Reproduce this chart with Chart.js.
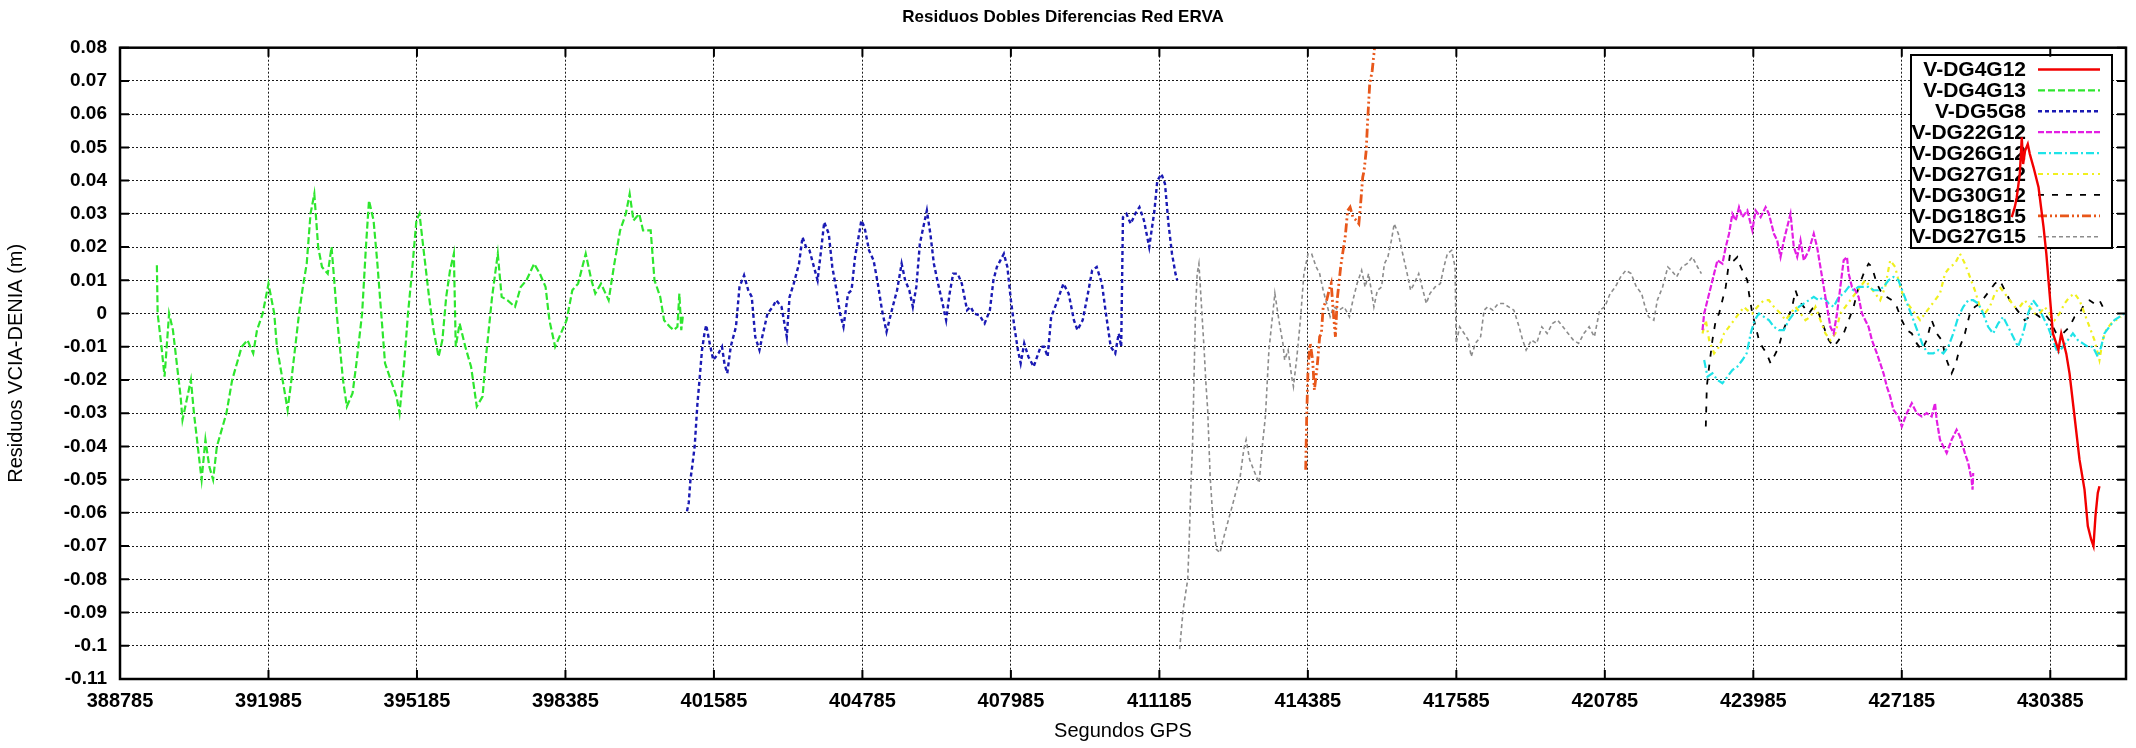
<!DOCTYPE html>
<html>
<head>
<meta charset="utf-8">
<script src="https://cdn.jsdelivr.net/npm/chart.js@4.4.1/dist/chart.umd.min.js"></script>
<style>
  html, body { margin: 0; padding: 0; background: #fff; }
  #wrap { width: 2136px; height: 748px; }
</style>
</head>
<body>
<div id="wrap"><canvas id="c" width="2136" height="748"></canvas></div>
<script>
// ---------------- DATA ----------------
const chartTitle = 'Residuos Dobles Diferencias Red ERVA';
const xTitle = 'Segundos GPS';
const yTitle = 'Residuos VCIA-DENIA (m)';

const xTicks = [388785, 391985, 395185, 398385, 401585, 404785, 407985, 411185, 414385, 417585, 420785, 423985, 427185, 430385];
const xTickLabels = ['388785','391985','395185','398385','401585','404785','407985','411185','414385','417585','420785','423985','427185','430385'];
const yTicks = [0.08,0.07,0.06,0.05,0.04,0.03,0.02,0.01,0,-0.01,-0.02,-0.03,-0.04,-0.05,-0.06,-0.07,-0.08,-0.09,-0.1,-0.11];
const yTickLabels = ['0.08','0.07','0.06','0.05','0.04','0.03','0.02','0.01','0','-0.01','-0.02','-0.03','-0.04','-0.05','-0.06','-0.07','-0.08','-0.09','-0.1','-0.11'];
const xMin = 388785, xMax = 432017, yMin = -0.11, yMax = 0.08;

const seriesLabels = ['V-DG4G12','V-DG4G13','V-DG5G8','V-DG22G12','V-DG26G12','V-DG27G12','V-DG30G12','V-DG18G15','V-DG27G15'];

// [GPS seconds, residual (m)]
const DG4G12 = [[429555,0.029],[429620,0.032],[429663,0.035],[429728,0.042],[429771,0.053],[429800,0.045],[429842,0.049],[429900,0.051],[429944,0.048],[430024,0.044],[430132,0.038],[430240,0.026],[430300,0.018],[430371,0.006],[430442,-0.006],[430514,-0.009],[430560,-0.011],[430621,-0.006],[430729,-0.012],[430800,-0.018],[430908,-0.031],[431015,-0.044],[431123,-0.053],[431194,-0.064],[431266,-0.068],[431316,-0.07],[431359,-0.061],[431409,-0.054],[431445,-0.052]];

const DG4G13 = [[389580,0.0145],[389596,0.0],[389679,-0.01],[389745,-0.019],[389843,0.0],[389926,-0.005],[390091,-0.025],[390132,-0.032],[390313,-0.02],[390379,-0.03],[390461,-0.04],[390544,-0.05],[390626,-0.038],[390708,-0.046],[390791,-0.05],[390873,-0.04],[391079,-0.03],[391202,-0.02],[391408,-0.01],[391532,-0.008],[391656,-0.012],[391738,-0.005],[391861,0.0],[391985,0.009],[392109,0.0],[392166,-0.01],[392314,-0.022],[392397,-0.029],[392479,-0.02],[392562,-0.01],[392644,0.0],[392726,0.008],[392809,0.015],[392891,0.03],[392973,0.036],[393056,0.02],[393138,0.014],[393262,0.012],[393344,0.02],[393402,0.01],[393468,-0.002],[393591,-0.02],[393674,-0.028],[393797,-0.024],[393880,-0.015],[394003,0.0],[394085,0.02],[394151,0.034],[394250,0.028],[394332,0.015],[394415,0.0],[394497,-0.015],[394621,-0.02],[394744,-0.025],[394810,-0.03],[394909,-0.015],[394992,0.0],[395074,0.012],[395173,0.028],[395239,0.03],[395321,0.02],[395445,0.005],[395543,-0.005],[395650,-0.013],[395733,-0.008],[395815,0.005],[395898,0.013],[395980,0.018],[396021,-0.01],[396104,-0.003],[396227,-0.01],[396351,-0.016],[396474,-0.028],[396598,-0.025],[396680,-0.012],[396804,0.005],[396927,0.018],[397010,0.005],[397133,0.004],[397298,0.002],[397421,0.008],[397545,0.01],[397710,0.015],[397833,0.012],[397957,0.008],[398039,-0.002],[398163,-0.01],[398286,-0.006],[398410,-0.002],[398533,0.007],[398657,0.009],[398822,0.018],[398945,0.01],[399028,0.006],[399151,0.009],[399316,0.004],[399439,0.015],[399563,0.025],[399686,0.03],[399769,0.036],[399851,0.028],[399975,0.03],[400057,0.025],[400222,0.025],[400304,0.01],[400428,0.005],[400510,-0.002],[400634,-0.004],[400716,-0.005],[400798,-0.004],[400840,0.006],[400881,-0.005],[400922,0.0]];

const DG5G8 = [[401004,-0.0595],[401042,-0.057],[401079,-0.05],[401117,-0.046],[401170,-0.04],[401230,-0.027],[401268,-0.021],[401328,-0.011],[401381,-0.006],[401419,-0.0035],[401494,-0.009],[401570,-0.014],[401683,-0.012],[401759,-0.01],[401811,-0.015],[401872,-0.018],[401947,-0.01],[402060,-0.004],[402136,0.008],[402234,0.0115],[402325,0.007],[402400,0.005],[402475,-0.007],[402566,-0.011],[402626,-0.007],[402740,0.0],[402853,0.002],[402928,0.004],[403042,0.002],[403155,-0.007],[403215,0.005],[403305,0.009],[403419,0.015],[403494,0.023],[403570,0.02],[403645,0.019],[403721,0.015],[403819,0.01],[403910,0.021],[403962,0.0275],[404060,0.024],[404136,0.014],[404227,0.007],[404302,0.0],[404377,-0.004],[404475,0.006],[404551,0.007],[404626,0.017],[404702,0.023],[404762,0.028],[404830,0.026],[404928,0.019],[405026,0.016],[405117,0.009],[405207,0.001],[405305,-0.0055],[405419,0.001],[405532,0.007],[405630,0.015],[405706,0.01],[405796,0.007],[405872,0.002],[405947,0.008],[406023,0.021],[406098,0.026],[406174,0.031],[406249,0.024],[406325,0.015],[406415,0.009],[406513,0.003],[406589,-0.002],[406664,0.006],[406740,0.012],[406838,0.012],[406928,0.009],[407041,0.001],[407117,0.002],[407192,0.0],[407306,-0.0005],[407419,-0.003],[407532,0.001],[407608,0.01],[407683,0.014],[407758,0.016],[407834,0.018],[407909,0.014],[407985,0.004],[408060,-0.004],[408136,-0.011],[408196,-0.015],[408272,-0.009],[408362,-0.013],[408475,-0.016],[408551,-0.013],[408626,-0.01],[408702,-0.01],[408777,-0.013],[408853,-0.001],[408966,0.003],[409117,0.009],[409230,0.006],[409343,-0.002],[409419,-0.005],[409532,-0.002],[409645,0.006],[409736,0.013],[409834,0.014],[409947,0.009],[410023,0.001],[410136,-0.01],[410234,-0.012],[410309,-0.006],[410362,-0.01],[410400,0.029],[410475,0.03],[410566,0.027],[410664,0.03],[410755,0.032],[410853,0.028],[410966,0.02],[411079,0.031],[411140,0.04],[411230,0.042],[411306,0.039],[411381,0.027],[411457,0.018],[411532,0.012],[411570,0.01]];

const DG22G12 = [[422890,-0.005],[422926,0.0],[422997,0.004],[423069,0.008],[423140,0.012],[423212,0.016],[423319,0.015],[423391,0.02],[423462,0.024],[423534,0.03],[423606,0.028],[423677,0.032],[423749,0.029],[423856,0.031],[423964,0.025],[424035,0.031],[424143,0.029],[424250,0.032],[424321,0.03],[424429,0.024],[424500,0.022],[424572,0.017],[424644,0.022],[424715,0.026],[424787,0.03],[424858,0.02],[424930,0.017],[425002,0.022],[425073,0.016],[425181,0.019],[425288,0.024],[425360,0.02],[425431,0.014],[425503,0.008],[425574,0.002],[425646,-0.004],[425717,-0.006],[425789,0.0],[425861,0.008],[425932,0.016],[426004,0.017],[426040,0.012],[426111,0.008],[426183,0.007],[426254,0.005],[426326,0.0],[426398,-0.002],[426469,-0.004],[426541,-0.008],[426648,-0.012],[426720,-0.015],[426791,-0.018],[426863,-0.022],[426935,-0.025],[427006,-0.029],[427113,-0.031],[427185,-0.034],[427292,-0.03],[427400,-0.027],[427507,-0.03],[427615,-0.031],[427722,-0.03],[427829,-0.031],[427901,-0.027],[427937,-0.032],[428008,-0.038],[428080,-0.04],[428152,-0.042],[428259,-0.038],[428366,-0.035],[428438,-0.037],[428545,-0.042],[428617,-0.045],[428689,-0.05],[428710,-0.053],[428724,-0.048]];

const DG26G12 = [[422926,-0.014],[422997,-0.019],[423104,-0.018],[423212,-0.02],[423319,-0.021],[423427,-0.019],[423534,-0.017],[423641,-0.016],[423749,-0.014],[423842,-0.012],[423928,-0.006],[424014,-0.002],[424107,0.0],[424214,-0.001],[424321,-0.002],[424429,-0.004],[424536,-0.005],[424644,-0.005],[424751,-0.002],[424858,0.0],[424966,0.002],[425073,0.003],[425181,0.004],[425288,0.005],[425395,0.004],[425503,0.005],[425610,0.003],[425717,0.002],[425825,0.005],[425932,0.006],[426040,0.008],[426147,0.007],[426254,0.008],[426362,0.008],[426469,0.008],[426577,0.007],[426684,0.007],[426791,0.008],[426899,0.01],[427006,0.011],[427113,0.01],[427221,0.006],[427328,0.002],[427436,-0.002],[427543,-0.006],[427651,-0.01],[427758,-0.012],[427865,-0.012],[427973,-0.011],[428080,-0.012],[428187,-0.01],[428295,-0.006],[428402,-0.001],[428510,0.002],[428617,0.004],[428724,0.004],[428832,0.003],[428939,0.0],[429046,-0.004],[429154,-0.006],[429261,-0.003],[429369,-0.001],[429476,-0.004],[429584,-0.007],[429691,-0.01],[429798,-0.006],[429906,0.0],[430013,0.004],[430120,0.002],[430228,-0.001],[430335,-0.004],[430442,-0.008],[430550,-0.012],[430657,-0.01],[430765,-0.008],[430872,-0.006],[430979,-0.008],[431087,-0.009],[431194,-0.01],[431302,-0.01],[431409,-0.013],[431481,-0.01],[431552,-0.006],[431660,-0.004],[431767,-0.002],[431875,-0.001],[431982,0.0]];

const DG27G12 = [[422890,-0.006],[422961,-0.002],[423033,-0.008],[423140,-0.012],[423248,-0.01],[423355,-0.006],[423462,-0.004],[423570,-0.002],[423677,0.0],[423785,0.002],[423856,0.001],[423964,0.0],[424071,0.002],[424214,0.004],[424321,0.004],[424429,0.002],[424572,0.0],[424679,-0.002],[424787,0.0],[424894,0.002],[425002,0.0],[425109,-0.002],[425216,-0.001],[425324,0.002],[425431,-0.002],[425539,-0.006],[425646,-0.008],[425753,-0.006],[425861,0.0],[425968,0.002],[426075,0.004],[426183,0.006],[426290,0.008],[426398,0.01],[426505,0.008],[426612,0.006],[426720,0.004],[426827,0.008],[426935,0.016],[427042,0.014],[427149,0.008],[427257,0.004],[427364,0.002],[427472,0.0],[427579,-0.002],[427686,0.0],[427794,0.002],[427901,0.004],[428008,0.006],[428116,0.012],[428223,0.014],[428331,0.015],[428438,0.018],[428545,0.015],[428653,0.011],[428760,0.007],[428867,0.002],[428975,0.0],[429082,0.002],[429190,0.006],[429297,0.008],[429405,0.006],[429512,0.004],[429619,0.002],[429727,0.002],[429834,0.004],[429941,0.002],[430049,0.0],[430156,0.0],[430263,0.002],[430371,0.0],[430478,-0.002],[430586,0.0],[430693,0.003],[430800,0.005],[430908,0.006],[431015,0.004],[431123,0.0],[431230,-0.004],[431337,-0.008],[431445,-0.014],[431516,-0.008],[431588,-0.005],[431696,-0.003],[431803,-0.002],[431911,-0.001]];

const DG30G12 = [[422961,-0.034],[422983,-0.022],[423033,-0.016],[423104,-0.008],[423176,-0.002],[423248,0.0],[423319,0.004],[423391,0.008],[423484,0.018],[423570,0.016],[423641,0.017],[423713,0.014],[423785,0.012],[423856,0.01],[423892,0.006],[423964,0.0],[424035,-0.004],[424107,-0.008],[424178,-0.01],[424271,-0.012],[424357,-0.015],[424429,-0.013],[424536,-0.01],[424608,-0.006],[424715,-0.002],[424823,0.002],[424894,0.007],[424966,0.004],[425073,0.002],[425181,0.0],[425288,0.002],[425395,0.0],[425503,-0.004],[425610,-0.008],[425717,-0.01],[425825,-0.008],[425932,-0.006],[426040,-0.002],[426147,0.002],[426254,0.008],[426362,0.012],[426469,0.015],[426541,0.014],[426648,0.009],[426756,0.006],[426863,0.005],[426970,0.004],[427078,0.002],[427185,-0.002],[427292,-0.005],[427400,-0.006],[427507,-0.009],[427615,-0.011],[427722,-0.008],[427829,-0.002],[427937,-0.006],[428044,-0.008],[428152,-0.014],[428259,-0.018],[428352,-0.015],[428438,-0.01],[428545,-0.006],[428653,0.0],[428760,0.002],[428867,0.003],[428975,0.005],[429082,0.007],[429190,0.009],[429297,0.01],[429405,0.007],[429512,0.004],[429619,0.002],[429727,0.0],[429834,-0.002],[429941,-0.001],[430049,0.0],[430156,-0.001],[430263,0.0],[430371,-0.002],[430514,-0.006],[430657,-0.006],[430800,-0.004],[430908,-0.001],[431015,0.0],[431123,0.003],[431230,0.004],[431337,0.003],[431445,0.004],[431516,0.002],[431588,0.004]];

const DG18G15 = [[414338,-0.047],[414360,-0.031],[414390,-0.016],[414436,-0.009],[414488,-0.014],[414526,-0.023],[414586,-0.016],[414639,-0.007],[414677,-0.006],[414715,0.002],[414790,0.004],[414843,0.007],[414888,0.009],[414941,-0.001],[414979,-0.007],[415016,0.004],[415054,0.009],[415092,0.014],[415145,0.019],[415190,0.023],[415243,0.031],[415295,0.032],[415356,0.029],[415431,0.028],[415484,0.027],[415522,0.033],[415567,0.041],[415597,0.043],[415642,0.049],[415673,0.058],[415718,0.069],[415771,0.073],[415823,0.08],[415884,0.088]];

const DG27G15 = [[411622,-0.101],[411698,-0.089],[411796,-0.08],[411826,-0.069],[411871,-0.049],[411901,-0.039],[411932,-0.019],[411962,0.0],[411999,0.012],[412037,0.015],[412098,0.001],[412150,-0.011],[412188,-0.021],[412226,-0.029],[412279,-0.049],[412339,-0.062],[412414,-0.071],[412490,-0.072],[412580,-0.067],[412656,-0.063],[412754,-0.058],[412829,-0.054],[412927,-0.049],[413003,-0.041],[413055,-0.038],[413131,-0.044],[413244,-0.048],[413334,-0.051],[413410,-0.039],[413470,-0.031],[413546,-0.011],[413606,-0.003],[413674,0.006],[413772,-0.003],[413847,-0.009],[413885,-0.014],[413960,-0.011],[414036,-0.019],[414074,-0.022],[414149,-0.013],[414224,-0.002],[414300,0.012],[414390,0.018],[414466,0.018],[414564,0.014],[414639,0.012],[414715,0.007],[414790,0.003],[414865,-0.001],[414941,0.002],[415054,0.001],[415167,0.002],[415280,-0.001],[415356,0.004],[415446,0.009],[415544,0.013],[415619,0.008],[415695,0.012],[415808,0.002],[415884,0.007],[415974,0.008],[416034,0.015],[416110,0.017],[416185,0.022],[416246,0.027],[416336,0.024],[416412,0.019],[416525,0.012],[416600,0.007],[416676,0.009],[416774,0.012],[416864,0.007],[416939,0.003],[417015,0.006],[417128,0.008],[417241,0.009],[417317,0.014],[417392,0.018],[417483,0.019],[417558,0.014],[417581,-0.009],[417656,-0.004],[417754,-0.006],[417844,-0.008],[417905,-0.013],[417995,-0.009],[418108,-0.007],[418184,0.001],[418259,0.002],[418372,0.001],[418486,0.003],[418599,0.003],[418712,0.002],[418825,0.001],[418938,-0.004],[419014,-0.008],[419089,-0.011],[419202,-0.008],[419315,-0.009],[419428,-0.004],[419542,-0.006],[419655,-0.003],[419768,-0.002],[419881,-0.004],[419994,-0.006],[420107,-0.008],[420220,-0.009],[420333,-0.006],[420447,-0.004],[420560,-0.007],[420673,0.001],[420786,0.002],[420899,0.006],[421012,0.008],[421125,0.011],[421238,0.013],[421352,0.012],[421465,0.008],[421578,0.006],[421653,0.002],[421728,-0.001],[421841,-0.002],[421917,0.004],[422030,0.008],[422143,0.014],[422218,0.013],[422332,0.011],[422445,0.014],[422558,0.015],[422671,0.017],[422784,0.014],[422866,0.012]];

const seriesData = [DG4G12, DG4G13, DG5G8, DG22G12, DG26G12, DG27G12, DG30G12, DG18G15, DG27G15];

// ---------------- STYLES ----------------
const seriesColors = ['#f20000', '#2ee62e', '#1a1ab4', '#e31ee3', '#1ee3e8', '#f0f01e', '#000000', '#e8571a', '#8c8c8c'];
const seriesDash = [[], [7,3], [4,3], [6,2], [8,3,2,3], [5,4,2,4], [6,8], [9,3,2,3,2,3], [4,3]];
const seriesWidth = [2.4, 2.2, 2.4, 2.2, 2.2, 2.2, 1.8, 2.8, 1.6];

const FONT = '"Liberation Sans", Arial, Helvetica, sans-serif';

const datasets = seriesLabels.map((label, i) => ({
  label: label,
  data: seriesData[i].map(p => ({x: p[0], y: p[1]})),
  borderColor: seriesColors[i],
  backgroundColor: seriesColors[i],
  borderWidth: seriesWidth[i],
  borderDash: seriesDash[i],
  pointRadius: 0,
  tension: 0,
  fill: false
}));

// legend box geometry
const LEG = { x: 1911, y: 55, w: 201, h: 193, row0: 69.5, rowH: 20.9, textRight: 2026, s0: 2038, s1: 2100 };

const gnuplotDecor = {
  id: 'gnuplotDecor',
  beforeDatasetsDraw(chart) {
    const ctx = chart.ctx;
    ctx.save();
    ctx.fillStyle = '#ffffff';
    ctx.fillRect(LEG.x, LEG.y, LEG.w, LEG.h);
    ctx.lineWidth = 2;
    ctx.strokeStyle = '#000';
    ctx.setLineDash([]);
    ctx.strokeRect(LEG.x, LEG.y, LEG.w, LEG.h);
    ctx.font = 'bold 21px ' + FONT;
    ctx.textAlign = 'right';
    ctx.textBaseline = 'middle';
    chart.data.datasets.forEach((ds, i) => {
      const y = LEG.row0 + i * LEG.rowH;
      ctx.fillStyle = '#000';
      ctx.fillText(ds.label, LEG.textRight, y + 1);
      ctx.beginPath();
      ctx.setLineDash(ds.borderDash || []);
      ctx.strokeStyle = ds.borderColor;
      ctx.lineWidth = ds.borderWidth;
      ctx.moveTo(LEG.s0, y);
      ctx.lineTo(LEG.s1, y);
      ctx.stroke();
    });
    ctx.restore();
  },
  afterDatasetsDraw(chart) {
    const ctx = chart.ctx;
    const a = chart.chartArea;
    const xs = chart.scales.x, ys = chart.scales.y;
    ctx.save();
    ctx.setLineDash([]);
    ctx.strokeStyle = '#000';
    ctx.lineWidth = 2;
    ctx.beginPath();
    yTicks.forEach(v => {
      const py = ys.getPixelForValue(v);
      ctx.moveTo(a.left, py); ctx.lineTo(a.left + 9, py);
      ctx.moveTo(a.right - 9, py); ctx.lineTo(a.right, py);
    });
    xTicks.forEach(v => {
      const px = xs.getPixelForValue(v);
      ctx.moveTo(px, a.bottom); ctx.lineTo(px, a.bottom - 9);
      ctx.moveTo(px, a.top); ctx.lineTo(px, a.top + 9);
    });
    ctx.stroke();
    ctx.lineWidth = 2.5;
    ctx.strokeRect(a.left, a.top, a.right - a.left, a.bottom - a.top);
    ctx.restore();
  }
};

new Chart(document.getElementById('c'), {
  type: 'line',
  data: { datasets: datasets },
  plugins: [gnuplotDecor],
  options: {
    responsive: false,
    animation: false,
    devicePixelRatio: 1,
    layout: { padding: { left: 0, right: 10, top: 0, bottom: 0 } },
    plugins: {
      legend: { display: false },
      tooltip: { enabled: false },
      title: {
        display: true,
        text: chartTitle,
        color: '#000',
        font: { family: FONT, size: 17, weight: 'bold', lineHeight: 1.2 },
        padding: { top: 7, bottom: 20.3 }
      }
    },
    scales: {
      x: {
        type: 'linear',
        min: xMin, max: xMax,
        afterBuildTicks: s => { s.ticks = xTicks.map(v => ({ value: v })); },
        afterFit: s => { s.height = 69; },
        ticks: {
          autoSkip: false, maxRotation: 0, padding: 10,
          color: '#000',
          font: { family: FONT, size: 20, weight: 'bold' },
          callback: (v, i) => xTickLabels[i]
        },
        grid: { color: '#1a1a1a', lineWidth: 1, drawTicks: false },
        border: { display: false, dash: [2, 2] },
        title: {
          display: true, text: xTitle, color: '#000',
          font: { family: FONT, size: 20, lineHeight: 1.2 },
          padding: { top: 0, bottom: 5 }
        }
      },
      y: {
        type: 'linear',
        min: yMin, max: yMax,
        afterBuildTicks: s => { s.ticks = yTicks.map(v => ({ value: v })); },
        afterFit: s => { s.width = 120; },
        ticks: {
          autoSkip: false, padding: 13,
          color: '#000',
          font: { family: FONT, size: 19, weight: 'bold' },
          callback: (v, i) => yTickLabels[i]
        },
        grid: { color: '#1a1a1a', lineWidth: 1, drawTicks: false },
        border: { display: false, dash: [2, 2] },
        title: {
          display: true, text: yTitle, color: '#000',
          font: { family: FONT, size: 20, lineHeight: 1.2 },
          padding: { top: 4, bottom: 0 }
        }
      }
    }
  }
});
</script>
</body>
</html>
